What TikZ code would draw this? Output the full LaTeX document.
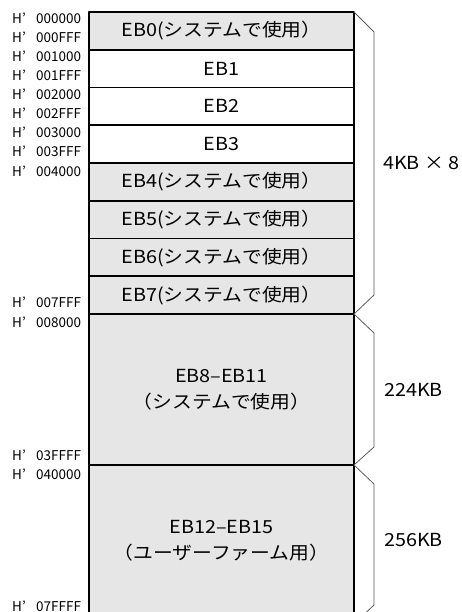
\documentclass[tikz,border=0pt]{standalone}
\usepackage{fontspec}
\setmainfont{Noto Sans CJK JP}[FakeStretch=1.1]
\newfontfamily\adrfont{Noto Sans CJK JP}
\usetikzlibrary{positioning}
\definecolor{blkgray}{HTML}{E6E6E6}
\definecolor{brgray}{HTML}{5A5A5A}
\begin{document}
\begin{tikzpicture}[x=1pt,y=-1pt,font=\fontsize{18}{26}\selectfont, line join=round,
    blk/.style={draw, line width=1.6pt, minimum width=265pt, minimum height=37.75pt, inner sep=0pt, outer sep=0pt, align=center},
    sys/.style={blk, fill=blkgray},
    adr/.style={anchor=west, inner sep=0pt, font=\adrfont\fontsize{13.5}{15}\selectfont},
    brc/.style={draw=brgray, line width=0.8pt},
    sz/.style={anchor=west, inner sep=0pt}] %Memory map
    \useasboundingbox (0,0) rectangle (462,612);
    % 4KB blocks
    \node[sys] (eb0) at (221.5,30.875) {EB0(システムで使用）};
    \node[blk, below=0pt of eb0] (eb1) {EB1};
    \node[blk, below=0pt of eb1] (eb2) {EB2};
    \node[blk, below=0pt of eb2] (eb3) {EB3};
    \node[sys, below=0pt of eb3] (eb4) {EB4(システムで使用）};
    \node[sys, below=0pt of eb4] (eb5) {EB5(システムで使用）};
    \node[sys, below=0pt of eb5] (eb6) {EB6(システムで使用）};
    \node[sys, below=0pt of eb6] (eb7) {EB7(システムで使用）};
    % large blocks
    \node[sys, minimum height=151pt, below=0pt of eb7] (eb8) {EB8–EB11\\（システムで使用）};
    \node[sys, minimum height=152pt, below=0pt of eb8] (eb12) {EB12–EB15\\（ユーザーファーム用）};
    % addresses
    \foreach \y/\a [count=\i] in {18/000000, 37/000FFF, 56/001000, 75/001FFF, 94/002000, 113/002FFF,
        132/003000, 151/003FFF, 171/004000, 302/007FFF, 322/008000, 455/03FFFF, 474/040000, 606/07FFFF}
        \node[adr] (ad\i) at (12,\y) {\makebox[24pt][l]{H’}\a};
    % brackets
    \draw[brc] (eb0.north east) -- ++(20,20) -- ++(0,263) -- (eb7.south east);
    \draw[brc] (eb8.north east) -- ++(20,19) -- ++(0,114) -- (eb8.south east);
    \draw[brc] (eb12.north east) -- ++(20,19) -- ++(0,121) -- ++(-20,19);
    \node[sz] (s1) at (383,163) {4KB × 8};
    \node[sz] (s2) at (384,390) {224KB};
    \node[sz] (s3) at (384,540) {256KB};
\end{tikzpicture}
\end{document}
